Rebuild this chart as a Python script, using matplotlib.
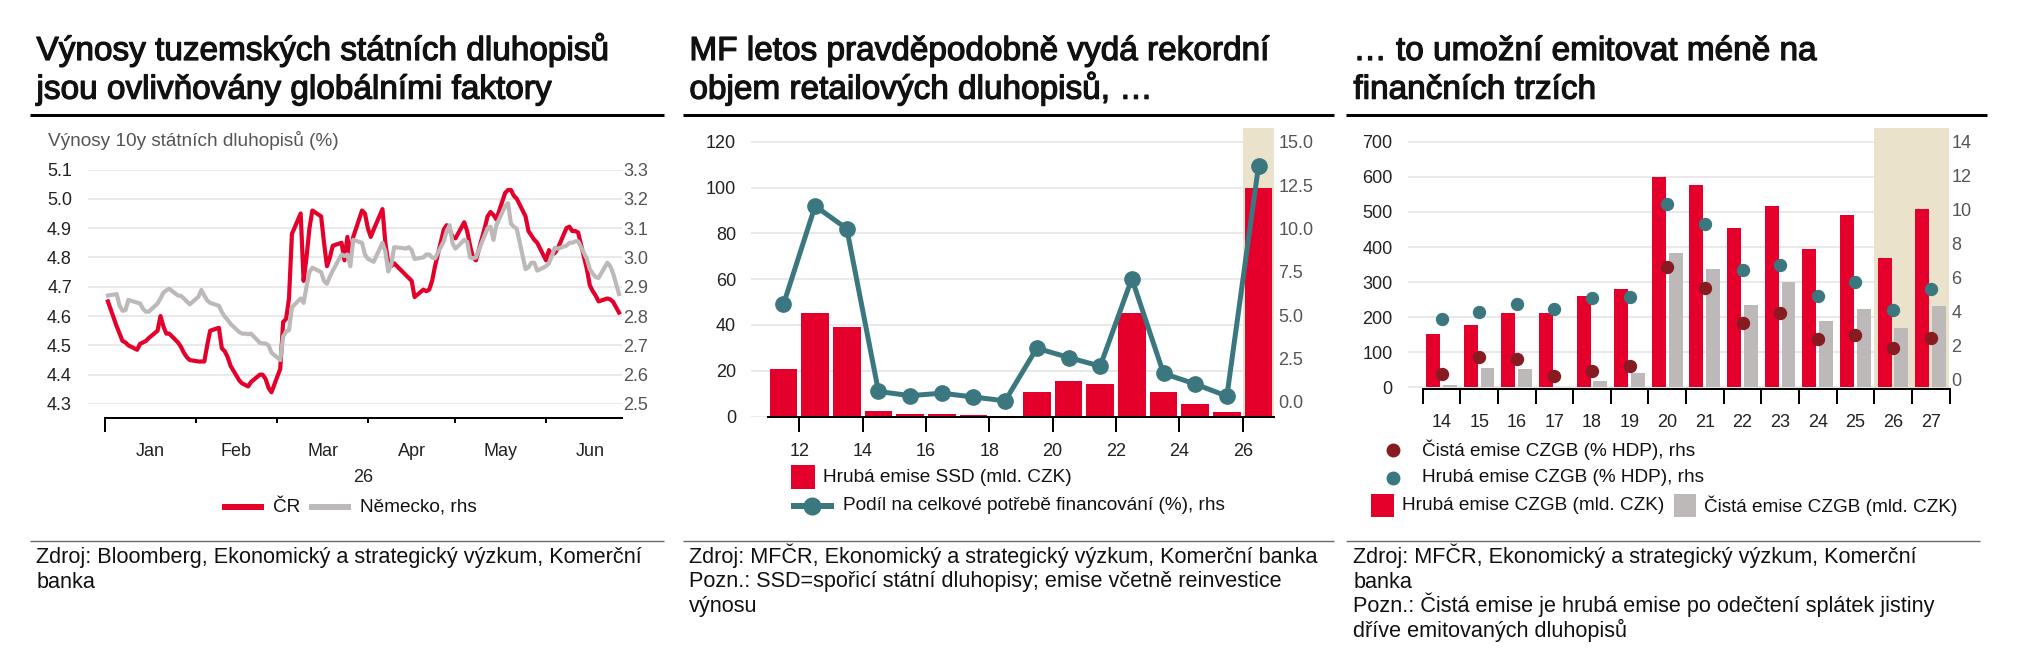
import numpy as np
import pandas as pd
import matplotlib
matplotlib.use("Agg")
import matplotlib.pyplot as plt
import matplotlib.dates as mdates
import matplotlib.patheffects as pe
from matplotlib.patches import Rectangle
from matplotlib.lines import Line2D

plt.rcParams['font.family'] = ['Liberation Sans', 'DejaVu Sans']

# ---------------- data ----------------
# Panel 1: 10y government bond yields (business days, 2 Jan - 26 Jun 2026)
cz_yield = [
    4.65, 4.565, 4.54, 4.515, 4.51, 4.50, 4.485, 4.505, 4.51, 4.515, 4.525, 4.55, 4.60, 4.565, 4.54, 4.54, 4.51, 4.495, 4.475, 4.46, 4.45,
    4.445, 4.445, 4.445, 4.50, 4.55, 4.56, 4.49, 4.48, 4.46, 4.43, 4.38, 4.37, 4.365, 4.36, 4.375, 4.40, 4.40, 4.385, 4.355, 4.34,
    4.42, 4.58, 4.59, 4.66, 4.88, 4.95, 4.72, 4.80, 4.90, 4.96, 4.94, 4.85, 4.77, 4.80, 4.84, 4.85, 4.79, 4.87, 4.80, 4.87, 4.96, 4.95,
    4.90, 4.87, 4.895, 4.965, 4.85, 4.78, 4.77, 4.78, 4.75, 4.74, 4.73, 4.72, 4.665, 4.69, 4.685, 4.69, 4.72, 4.77, 4.895, 4.91, 4.895, 4.87,
    4.865, 4.92, 4.89, 4.84, 4.80, 4.79, 4.90, 4.94, 4.955, 4.945, 4.93, 5.02, 5.03, 5.03, 5.01, 5.00, 4.94, 4.89, 4.875, 4.86, 4.85,
    4.79, 4.825, 4.81, 4.815, 4.83, 4.90, 4.905, 4.89, 4.89, 4.885, 4.76, 4.705, 4.685, 4.67, 4.65, 4.66, 4.657, 4.648, 4.63, 4.612,
]
de_yield = [
    2.87, 2.875, 2.835, 2.818, 2.82, 2.855, 2.846, 2.843, 2.825, 2.815, 2.815, 2.843, 2.86, 2.88, 2.888, 2.893, 2.87, 2.869, 2.86, 2.85, 2.84,
    2.866, 2.889, 2.87, 2.853, 2.845, 2.835, 2.814, 2.798, 2.787, 2.773, 2.745, 2.74, 2.74, 2.738, 2.74, 2.709, 2.707, 2.706, 2.70, 2.675,
    2.65, 2.73, 2.747, 2.752, 2.83, 2.86, 2.845, 2.90, 2.95, 2.965, 2.95, 2.92, 2.91, 2.935, 2.955, 3.01, 3.005, 3.01, 2.97, 3.06, 3.05, 3.01,
    2.995, 2.99, 2.985, 3.05, 3.02, 2.952, 2.975, 3.035, 3.032, 3.03, 3.035, 3.025, 2.995, 3.00, 3.01, 3.01, 3.00, 2.997, 3.055, 3.09, 3.11, 3.048,
    3.03, 3.06, 3.053, 3.00, 2.997, 3.00, 3.075, 3.10, 3.105, 3.06, 3.11, 3.175, 3.185, 3.115, 3.105, 3.097, 2.96, 2.967, 2.982, 2.982, 2.955,
    2.97, 2.98, 3.005, 3.033, 3.03, 3.04, 3.05, 3.05, 3.055, 3.055, 2.995, 2.96, 2.945, 2.933, 2.93, 2.982, 2.97, 2.945, 2.91, 2.875,
]
dates1 = pd.bdate_range('2026-01-02', '2026-06-26')
month_labels = ['Jan', 'Feb', 'Mar', 'Apr', 'May', 'Jun']

# Panel 2: retail bonds (SSD)
years2 = np.arange(2011, 2027)
ssd_gross = [20.6, 45.2, 39.1, 2.2, 1.1, 1.1, 0.7, 0.2, 10.7, 15.5, 14.0, 45.0, 10.8, 5.4, 2.0, 100.0]
ssd_share = [5.61, 11.29, 9.98, 0.59, 0.35, 0.49, 0.27, 0.05, 3.09, 2.55, 2.05, 7.10, 1.63, 1.02, 0.32, 13.62]

# Panel 3: CZGB issuance
years3 = np.arange(2014, 2028)
czgb_gross_czk = [153, 179, 211, 213, 259, 280, 600, 576, 455, 517, 394, 491, 369, 509]
czgb_net_czk = [8, 56, 52, 2, 19, 41, 384, 338, 234, 299, 190, 222, 168, 231]
czgb_gross_gdp = [3.55, 3.95, 4.43, 4.14, 4.77, 4.82, 10.3, 9.15, 6.45, 6.76, 4.89, 5.75, 4.10, 5.32]
czgb_net_gdp = [0.29, 1.29, 1.17, 0.18, 0.47, 0.80, 6.60, 5.38, 3.34, 3.90, 2.36, 2.60, 1.87, 2.43]

# ---------------- style ----------------
RED = '#E4002B'
GREY = '#BDB9B8'
TEAL = '#3A777E'
DARKRED = '#861C22'
SHADE = '#EAE2CB'
GRID = '#E4E4E4'
TXT = '#111111'
TICK_L = '#222222'
TICK_R = '#555555'

W, H = 2024, 671
fig = plt.figure(figsize=(W / 100, H / 100), dpi=100)
PT = 0.72  # points per pixel


def add_ax(x0, y0, x1, y1):
    return fig.add_axes([x0 / W, 1 - y1 / H, (x1 - x0) / W, (y1 - y0) / H])


def ftext(x, y, s, **kw):
    kw.setdefault('color', TXT)
    return fig.text(x / W, 1 - y / H, s, **kw)


def fline(x0, x1, y, **kw):
    fig.add_artist(Line2D([x0 / W, x1 / W], [1 - y / H, 1 - y / H], transform=fig.transFigure, **kw))


def frect(x, y, w, h, color):
    fig.add_artist(Rectangle((x / W, 1 - (y + h) / H), w / W, h / H, transform=fig.transFigure,
                             facecolor=color, edgecolor='none'))


def fmark(x, y, **kw):
    fig.add_artist(Line2D([x / W], [1 - y / H], transform=fig.transFigure, **kw))


TITLE_FS = 24
SRC_FS = 15.6
LEG_FS = 13.7
TICK_FS = 13
title_fx = [pe.withStroke(linewidth=0.9, foreground=TXT)]


def panel_frame(x0, x1, xt, title_lines, src_lines, rule_end=None):
    for i, s in enumerate(title_lines):
        ftext(xt, 60 + i * 38.7, s, fontsize=TITLE_FS, va='baseline', ha='left', path_effects=title_fx)
    fline(x0, x1, 115, color='black', lw=3 * PT, solid_capstyle='butt')
    fline(x0, rule_end if rule_end else x1, 541, color='#6a6a6a', lw=1.4 * PT, solid_capstyle='butt')
    for i, s in enumerate(src_lines):
        ftext(xt, 563 + i * 24.5, s, fontsize=SRC_FS, va='baseline', ha='left')


def clean(ax):
    for s in ['top', 'left', 'right']:
        ax.spines[s].set_visible(False)


# ================= Panel 1 =================
panel_frame(30, 664, 36.5,
            ['Výnosy tuzemských státních dluhopisů', 'jsou ovlivňovány globálními faktory'],
            ['Zdroj: Bloomberg, Ekonomický a strategický výzkum, Komerční', 'banka'])
ftext(48, 140, 'Výnosy 10y státních dluhopisů (%)', fontsize=LEG_FS, color='#555555', va='center')

ax1 = add_ax(88, 169.5, 622, 404)
month_starts = [mdates.date2num(pd.Timestamp(2026, m, 1)) for m in range(1, 7)]
px_day = (546 - 105) / (month_starts[5] - month_starts[0])
ax1.set_xlim(month_starts[0] - (105 - 88) / px_day, month_starts[5] + (622 - 546) / px_day)
ax1.set_ylim(4.3, 5.1)
ax1.set_yticks(np.round(np.arange(4.3, 5.101, 0.1), 1))
ax1.set_yticklabels([f'{v:.1f}' for v in np.arange(4.3, 5.101, 0.1)])
ax1.yaxis.grid(True, color=GRID, lw=1.6 * PT)
ax1.set_axisbelow(True)
clean(ax1)
ax1.spines['bottom'].set_position(('outward', 14 * PT))
ax1.spines['bottom'].set_bounds(month_starts[0], ax1.get_xlim()[1])
ax1.spines['bottom'].set_linewidth(2 * PT)
ax1.set_xticks(month_starts)
ax1.set_xticklabels([''] * 6)
mids = [mdates.date2num(pd.Timestamp(2026, m, 1) + pd.Timedelta(days=pd.Timestamp(2026, m, 1).days_in_month / 2))
        for m in range(1, 7)]
ax1.set_xticks(mids, minor=True)
ax1.set_xticklabels(month_labels, minor=True)
ax1.tick_params(axis='x', which='major', length=5 * PT, width=2 * PT, direction='out', color='black')
ax1.tick_params(axis='x', which='minor', length=0, pad=25 * PT, labelsize=TICK_FS, labelcolor=TICK_L)
ax1.tick_params(axis='y', length=0, pad=16 * PT, labelsize=TICK_FS, labelcolor=TICK_L)
ax1.xaxis.get_major_ticks()[0].tick1line.set_markersize(14 * PT)
ax1.plot(dates1, cz_yield, color=RED, lw=3.0, solid_joinstyle='round', zorder=3)

ax1r = ax1.twinx()
ax1r.set_ylim(2.5, 3.3)
ax1r.set_yticks(np.round(np.arange(2.5, 3.301, 0.1), 1))
ax1r.set_yticklabels([f'{v:.1f}' for v in np.arange(2.5, 3.301, 0.1)])
for s in ax1r.spines.values():
    s.set_visible(False)
ax1r.tick_params(axis='y', length=0, pad=1 * PT, labelsize=TICK_FS, labelcolor=TICK_R)
ax1r.plot(dates1, de_yield, color=GREY, lw=3.0, solid_joinstyle='round')

ftext(363.5, 478, '26', fontsize=TICK_FS, ha='center', va='center', color=TICK_L)
fline(222, 264, 507, color=RED, lw=6 * PT, solid_capstyle='butt')
ftext(273, 507, 'ČR', fontsize=LEG_FS, va='center')
fline(309, 351, 507, color=GREY, lw=6 * PT, solid_capstyle='butt')
ftext(360.5, 507, 'Německo, rhs', fontsize=LEG_FS, va='center')

# ================= Panel 2 =================
panel_frame(683.4, 1334, 689.4,
            ['MF letos pravděpodobně vydá rekordní', 'objem retailových dluhopisů, …'],
            ['Zdroj: MFČR, Ekonomický a strategický výzkum, Komerční banka',
             'Pozn.: SSD=spořicí státní dluhopisy; emise včetně reinvestice',
             'výnosu'])
ax2 = add_ax(751, 128.3, 1274.4, 416.5)
yr_px = 31.67
ax2.set_xlim(2011 - (767.6 - 751) / yr_px, 2027)
ax2.set_ylim(0, 120 + (141.7 - 128.3) / ((416.5 - 141.7) / 120))
ax2.set_yticks(np.arange(0, 121, 20))
ax2.yaxis.grid(True, color=GRID, lw=1.6 * PT)
ax2.set_axisbelow(True)
clean(ax2)
ax2.spines['bottom'].set_bounds(2011, 2027)
ax2.spines['bottom'].set_linewidth(2 * PT)
ax2.axvspan(years2[-1], years2[-1] + 1, color=SHADE, lw=0, zorder=1)
ax2.bar(years2 + 0.5, ssd_gross, width=0.88, color=RED, zorder=2)
ax2.set_xticks(np.arange(2012, 2027, 2))
ax2.set_xticklabels([f'{y % 100}' for y in range(2012, 2027, 2)])
ax2.tick_params(axis='x', length=15 * PT, width=2 * PT, direction='out', pad=11 * PT,
                labelsize=TICK_FS, labelcolor=TICK_L)
ax2.tick_params(axis='y', length=0, pad=15 * PT, labelsize=TICK_FS, labelcolor=TICK_L)

ax2r = ax2.twinx()
r_px = (401.7 - 141.7) / 15
ax2r.set_ylim(-(416.5 - 401.7) / r_px, 15 + (141.7 - 128.3) / r_px)
ax2r.set_yticks(np.arange(0, 15.01, 2.5))
ax2r.set_yticklabels([f'{v:.1f}' for v in np.arange(0, 15.01, 2.5)])
for s in ax2r.spines.values():
    s.set_visible(False)
ax2r.tick_params(axis='y', length=0, pad=4 * PT, labelsize=TICK_FS, labelcolor=TICK_R)
ax2r.plot(years2 + 0.5, ssd_share, color=TEAL, lw=3.6, marker='o', ms=11, zorder=3)

frect(791, 465, 24, 24, RED)
ftext(823, 477, 'Hrubá emise SSD (mld. CZK)', fontsize=LEG_FS, va='center')
fline(791, 834, 506, color=TEAL, lw=6 * PT, solid_capstyle='butt')
fmark(812.5, 506, marker='o', ms=12, color=TEAL, lw=0)
ftext(843, 506, 'Podíl na celkové potřebě financování (%), rhs', fontsize=LEG_FS, va='center')

# ================= Panel 3 =================
panel_frame(1346.5, 1986.7, 1353.4,
            ['… to umožní emitovat méně na', 'finančních trzích'],
            ['Zdroj: MFČR, Ekonomický a strategický výzkum, Komerční', 'banka',
             'Pozn.: Čistá emise je hrubá emise po odečtení splátek jistiny',
             'dříve emitovaných dluhopisů'], rule_end=1980.5)
ax3 = add_ax(1408, 128.3, 1949.5, 389.3)
cat_px = (1949.5 - 1422.7) / 14
ax3.set_xlim(years3[0] - 0.5 - (1422.7 - 1408) / cat_px, years3[-1] + 0.5)
l_px = (387.4 - 141.7) / 700
ax3.set_ylim(-(389.3 - 387.4) / l_px, 700 + (141.7 - 128.3) / l_px)
ax3.set_yticks(np.arange(0, 701, 100))
ax3.yaxis.grid(True, color=GRID, lw=1.6 * PT)
ax3.set_axisbelow(True)
clean(ax3)
ax3.spines['bottom'].set_bounds(years3[0] - 0.5, years3[-1] + 0.5)
ax3.spines['bottom'].set_linewidth(2 * PT)
ax3.axvspan(years3[-2] - 0.5, years3[-1] + 0.5, color=SHADE, lw=0, zorder=1)
ax3.bar(years3 - 0.225, czgb_gross_czk, width=0.37, color=RED, zorder=2)
ax3.bar(years3 + 0.222, czgb_net_czk, width=0.37, color=GREY, zorder=2)
ax3.set_xticks(np.append(years3 - 0.5, years3[-1] + 0.5))
ax3.set_xticklabels([''] * (len(years3) + 1))
ax3.set_xticks(years3, minor=True)
ax3.set_xticklabels([f'{y % 100}' for y in years3], minor=True)
ax3.tick_params(axis='x', which='major', length=15 * PT, width=2 * PT, direction='out', color='black')
ax3.tick_params(axis='x', which='minor', length=0, pad=25 * PT, labelsize=TICK_FS, labelcolor=TICK_L)
ax3.tick_params(axis='y', length=0, pad=15.5 * PT, labelsize=TICK_FS, labelcolor=TICK_L)

ax3r = ax3.twinx()
r3_px = (379.3 - 141.7) / 14
ax3r.set_ylim(-(389.3 - 379.3) / r3_px, 14 + (141.7 - 128.3) / r3_px)
ax3r.set_yticks(np.arange(0, 15, 2))
for s in ax3r.spines.values():
    s.set_visible(False)
ax3r.tick_params(axis='y', length=0, pad=2 * PT, labelsize=TICK_FS, labelcolor=TICK_R)
ax3r.plot(years3, czgb_gross_gdp, ls='none', marker='o', ms=8.6, color=TEAL, zorder=3)
ax3r.plot(years3, czgb_net_gdp, ls='none', marker='o', ms=8.6, color=DARKRED, zorder=3)

fmark(1392.5, 449.8, marker='o', ms=9, color=DARKRED, lw=0)
ftext(1422.5, 449.8, 'Čistá emise CZGB (% HDP), rhs', fontsize=LEG_FS, va='center')
fmark(1392.5, 477.7, marker='o', ms=9, color=TEAL, lw=0)
ftext(1422.5, 477.7, 'Hrubá emise CZGB (% HDP), rhs', fontsize=LEG_FS, va='center')
frect(1370.6, 494.4, 23.6, 22.8, RED)
ftext(1402, 506, 'Hrubá emise CZGB (mld. CZK)', fontsize=LEG_FS, va='center')
frect(1673.6, 494.4, 22.4, 22.8, GREY)
ftext(1704.5, 506, 'Čistá emise CZGB (mld. CZK)', fontsize=LEG_FS, va='center')

fig.savefig('out.png', dpi=100, facecolor='white')
